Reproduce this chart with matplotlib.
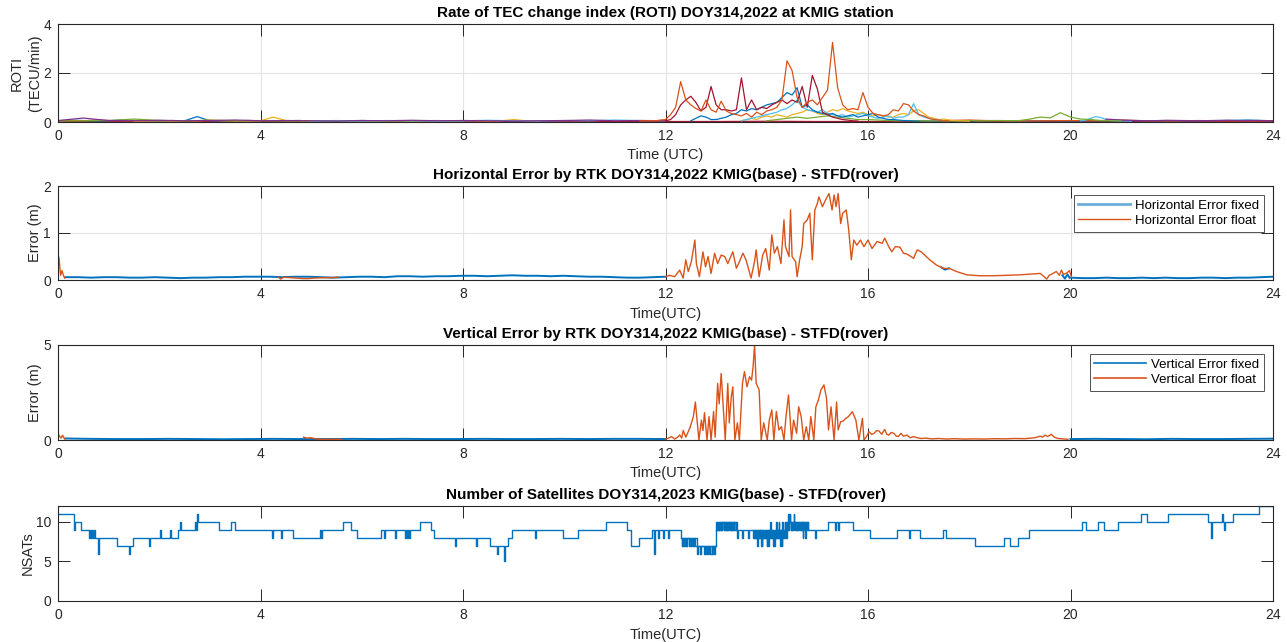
import numpy as np
import matplotlib
matplotlib.use("Agg")
import matplotlib.pyplot as plt

plt.rcParams['font.family'] = ['Liberation Sans', 'DejaVu Sans']

# ---------------- DATA ----------------
hours_ticks = [0, 4, 8, 12, 16, 20, 24]

# ROTI arcs (TECU/min): start hour, step (h), values
roti_a_start, roti_a_step = 11.5, 0.1
roti_a = [0.05, 0.04, 0.06, 0.05, 0.08, 0.10, 0.30, 0.60, 1.65, 0.90, 0.70, 0.55, 0.45, 0.90, 0.50, 0.40,
          0.85, 0.45, 0.35, 0.30, 0.25, 0.35, 0.20, 0.40, 0.30, 0.45, 0.50, 0.60, 0.90, 2.50, 2.10, 1.00,
          0.60, 0.80, 0.90, 0.70, 1.00, 1.30, 3.25, 1.40, 0.70, 0.50, 0.55, 0.50, 1.20, 0.60, 0.35, 0.30,
          0.25, 0.30, 0.50, 0.45, 0.75, 0.70, 0.45, 0.30, 0.25, 0.15, 0.10, 0.08, 0.05, 0.04]
roti_b_start, roti_b_step = 12.0, 0.1
roti_b = [0.05, 0.10, 0.30, 0.70, 0.90, 1.05, 0.80, 0.45, 0.60, 1.45, 0.70, 0.50, 0.50, 0.45, 0.50, 1.80,
          0.50, 0.90, 0.50, 0.60, 0.55, 0.70, 0.80, 0.90, 0.75, 0.90, 0.80, 1.45, 0.60, 1.90, 1.35, 0.40,
          0.30, 0.20, 0.15, 0.10, 0.08, 0.05, 0.04]
roti_c_start, roti_c_step = 12.5, 0.1
roti_c = [0.05, 0.15, 0.25, 0.20, 0.10, 0.10, 0.15, 0.20, 0.30, 0.35, 0.50, 0.45, 0.55, 0.50, 0.60, 0.70,
          0.75, 0.80, 1.00, 1.20, 1.10, 1.40, 0.60, 0.70, 0.50, 0.40, 0.35, 0.30, 0.35, 0.25, 0.20, 0.25,
          0.30, 0.20, 0.25, 0.30, 0.35, 0.20, 0.15, 0.10, 0.10, 0.08, 0.06, 0.05, 0.04, 0.03]
roti_d_start, roti_d_step = 13.5, 0.1
roti_d = [0.05, 0.10, 0.15, 0.20, 0.25, 0.30, 0.35, 0.40, 0.50, 0.55, 0.70, 0.90, 0.60, 0.50, 0.45, 0.40,
          0.50, 0.35, 0.30, 0.25, 0.30, 0.20, 0.25, 0.30, 0.35, 0.25, 0.20, 0.15, 0.20, 0.25, 0.15, 0.20,
          0.20, 0.30, 0.75, 0.30, 0.20, 0.15, 0.10, 0.08, 0.05]
roti_e_start, roti_e_step = 13.5, 0.1
roti_e = [0.05, 0.10, 0.15, 0.10, 0.20, 0.25, 0.20, 0.30, 0.25, 0.20, 0.30, 0.35, 0.40, 0.50, 0.45, 0.35,
          0.30, 0.40, 0.50, 0.45, 0.55, 0.45, 0.40, 0.35, 0.40, 0.30, 0.25, 0.30, 0.25, 0.20, 0.20, 0.30,
          0.35, 0.30, 0.45, 0.50, 0.35, 0.20, 0.15, 0.10, 0.12, 0.08, 0.06, 0.05, 0.04, 0.03]
roti_f_start, roti_f_step = 14.0, 0.2
roti_f = [0.05, 0.10, 0.15, 0.20, 0.15, 0.20, 0.25, 0.20, 0.15, 0.10, 0.10, 0.08, 0.06, 0.05, 0.06, 0.05,
          0.04, 0.05, 0.04, 0.05, 0.06, 0.04, 0.05, 0.06, 0.05, 0.06, 0.12, 0.20, 0.17, 0.38, 0.20, 0.12,
          0.10, 0.06, 0.05, 0.04]
# quiet arcs
rq1_start, rq1_step = 0.0, 0.25
rq1 = [0.05, 0.07, 0.06, 0.04, 0.05, 0.08, 0.06, 0.05, 0.04, 0.06, 0.05, 0.22, 0.05, 0.04, 0.05, 0.06,
       0.05, 0.04, 0.05, 0.06, 0.04, 0.05, 0.04, 0.03, 0.04]
rq2_start, rq2_step = 0.0, 0.25
rq2 = [0.04, 0.06, 0.05, 0.08, 0.06, 0.05, 0.04, 0.05, 0.06, 0.05, 0.04, 0.05, 0.06, 0.05, 0.04, 0.06,
       0.05, 0.04, 0.05, 0.06, 0.05, 0.04, 0.05, 0.04, 0.06, 0.05, 0.04, 0.05, 0.04]
rq3_start, rq3_step = 1.5, 0.25
rq3 = [0.03, 0.04, 0.05, 0.04, 0.06, 0.05, 0.08, 0.06, 0.05, 0.04, 0.05, 0.20, 0.06, 0.05, 0.04, 0.05,
       0.06, 0.04, 0.05, 0.04, 0.05, 0.06, 0.04, 0.05, 0.04, 0.05, 0.06, 0.05, 0.04, 0.05, 0.10, 0.05, 0.04]
rq4_start, rq4_step = 0.0, 0.5
rq4 = [0.06, 0.16, 0.06, 0.05, 0.07, 0.05, 0.06, 0.08, 0.05, 0.06, 0.05, 0.04, 0.06, 0.05, 0.07, 0.05,
       0.06, 0.05, 0.04, 0.05, 0.06, 0.08, 0.05, 0.06, 0.05]
rq5_start, rq5_step = 0.0, 0.5
rq5 = [0.04, 0.05, 0.06, 0.12, 0.06, 0.05, 0.07, 0.05, 0.06, 0.05, 0.04, 0.05, 0.06, 0.04, 0.05, 0.06, 0.04]
rq6_start, rq6_step = 5.0, 0.5
rq6 = [0.04, 0.05, 0.04, 0.06, 0.05, 0.04, 0.05, 0.07, 0.05, 0.04, 0.06, 0.05, 0.08, 0.06, 0.05]
rq7_start, rq7_step = 0.0, 1.0
rq7 = [0.02, 0.02, 0.03, 0.02, 0.02, 0.02, 0.03, 0.02, 0.02, 0.02, 0.03, 0.02, 0.02, 0.02, 0.03, 0.02,
       0.02, 0.02, 0.02, 0.03, 0.02, 0.02, 0.02, 0.02, 0.02]
rq8_start, rq8_step = 17.0, 0.5
rq8 = [0.05, 0.04, 0.05, 0.06, 0.04, 0.05, 0.04, 0.05, 0.06, 0.05, 0.04, 0.05, 0.06, 0.08, 0.05]
rq9_start, rq9_step = 17.5, 0.5
rq9 = [0.06, 0.08, 0.05, 0.04, 0.05, 0.06, 0.05, 0.08, 0.05, 0.04, 0.06, 0.05, 0.04, 0.05]
rq10_start, rq10_step = 20.7, 0.3
rq10 = [0.12, 0.08, 0.06, 0.05, 0.07, 0.06, 0.05, 0.06, 0.07, 0.05, 0.06, 0.05]
rq11_start, rq11_step = 20.2, 0.1
rq11 = [0.05, 0.08, 0.15, 0.22, 0.18, 0.10, 0.06, 0.05, 0.04, 0.04, 0.03]

# Horizontal error (m)
hz_fixed_a = [0.06, 0.06, 0.05, 0.06, 0.06, 0.05, 0.05, 0.06, 0.05, 0.04, 0.05, 0.05, 0.06, 0.06, 0.07, 0.07,
              0.07, 0.06, 0.07, 0.07, 0.06, 0.05, 0.06, 0.07, 0.07, 0.06, 0.08, 0.08, 0.07, 0.08, 0.08, 0.09,
              0.09, 0.08, 0.09, 0.10, 0.09, 0.09, 0.08, 0.09, 0.08, 0.07, 0.07, 0.06, 0.05, 0.05, 0.06, 0.07]
hz_fixed_a_span = (0.15, 12.0)
hz_fixed_b = [0.05, 0.04, 0.04, 0.05, 0.04, 0.04, 0.05, 0.04, 0.05, 0.04, 0.04, 0.05, 0.05, 0.04, 0.05, 0.05,
              0.06, 0.07]
hz_fixed_b_span = (20.0, 24.0)
hz_fixed_c_t = [17.45, 17.52, 17.60]
hz_fixed_c = [0.27, 0.22, 0.25]
hz_fixed_d_t = [19.84, 19.89, 19.94, 19.98]
hz_fixed_d = [0.10, 0.03, 0.12, 0.05]
hz_float_q_t = [0.00, 0.02, 0.05, 0.08, 0.10, 0.13]
hz_float_q = [0.30, 0.48, 0.10, 0.20, 0.12, 0.04]
hz_float_q2_t = [4.35, 4.40, 4.45, 4.84, 4.95, 5.05, 5.27, 5.40, 5.53]
hz_float_q2 = [0.06, 0.02, 0.06, 0.03, 0.03, 0.04, 0.05, 0.05, 0.06]
hz_float_t = [12.00, 12.08, 12.18, 12.28, 12.35, 12.40, 12.45, 12.51, 12.58, 12.61, 12.67, 12.74, 12.79, 12.84,
              12.90, 12.97, 13.03, 13.10, 13.17, 13.23, 13.33, 13.40, 13.46, 13.53, 13.59, 13.69, 13.76, 13.79,
              13.85, 13.92, 13.98, 14.05, 14.10, 14.15, 14.21, 14.28, 14.34, 14.37, 14.44, 14.47, 14.50, 14.57,
              14.60, 14.65, 14.70, 14.73, 14.80, 14.85, 14.90, 14.95, 15.00, 15.03, 15.10, 15.16, 15.23, 15.29,
              15.33, 15.37, 15.41, 15.46, 15.50, 15.57, 15.62, 15.67, 15.72, 15.78, 15.85, 15.92, 16.00, 16.08,
              16.18, 16.28, 16.33, 16.41, 16.47, 16.54, 16.63, 16.70, 16.77, 16.85, 16.90, 16.97, 17.05, 17.12,
              17.22, 17.35, 17.48, 17.62, 17.75, 17.95, 18.21, 18.47, 18.74, 19.00, 19.27, 19.40, 19.47, 19.53,
              19.58, 19.62, 19.72, 19.78, 19.82, 19.86, 19.93, 19.98, 20.02]
hz_float = [0.07, 0.10, 0.07, 0.21, 0.04, 0.43, 0.18, 0.39, 0.85, 0.35, 0.07, 0.60, 0.28, 0.50,
            0.14, 0.57, 0.35, 0.53, 0.50, 0.35, 0.60, 0.25, 0.39, 0.57, 0.43, 0.04, 0.40, 0.64,
            0.07, 0.53, 0.67, 0.21, 0.96, 0.57, 0.71, 0.35, 1.28, 0.71, 0.50, 1.49, 0.50, 0.39,
            0.07, 0.43, 0.71, 1.20, 1.28, 1.42, 0.43, 1.49, 1.63, 1.77, 1.56, 1.70, 1.84, 1.49,
            1.81, 1.56, 1.84, 1.20, 1.42, 1.49, 1.06, 0.43, 0.85, 0.74, 0.85, 0.71, 0.85, 0.67,
            0.82, 0.78, 0.89, 0.71, 0.60, 0.71, 0.70, 0.57, 0.55, 0.50, 0.46, 0.64, 0.60, 0.53,
            0.43, 0.32, 0.25, 0.24, 0.18, 0.11, 0.09, 0.09, 0.10, 0.11, 0.13, 0.14, 0.08, 0.02,
            0.10, 0.12, 0.18, 0.10, 0.21, 0.12, 0.15, 0.20, 0.06]

# Vertical error (m)
ver_fixed_a = [0.08, 0.06, 0.05, 0.05, 0.06, 0.05, 0.04, 0.05, 0.06, 0.05, 0.05, 0.06, 0.05, 0.06, 0.05, 0.05,
               0.06, 0.05, 0.05, 0.06, 0.05, 0.06, 0.06, 0.05]
ver_fixed_a_span = (0.15, 12.0)
ver_fixed_b = [0.05, 0.06, 0.05, 0.04, 0.06, 0.05, 0.05, 0.06, 0.07]
ver_fixed_b_span = (20.0, 24.0)
ver_float_q_t = [0.00, 0.03, 0.06, 0.09, 0.13]
ver_float_q = [0.35, 0.20, 0.10, 0.25, 0.05]
ver_float_q2_t = [4.85, 4.92, 5.00, 5.10, 5.30, 5.45, 5.60]
ver_float_q2 = [0.15, 0.10, 0.12, 0.05, 0.03, 0.04, 0.03]
ver_float_t = [12.00, 12.06, 12.12, 12.18, 12.24, 12.28, 12.32, 12.35, 12.40, 12.45, 12.49, 12.55, 12.59, 12.63,
               12.66, 12.71, 12.74, 12.77, 12.82, 12.86, 12.90, 12.95, 12.98, 13.03, 13.06, 13.10, 13.14, 13.18,
               13.23, 13.26, 13.30, 13.33, 13.37, 13.42, 13.46, 13.52, 13.56, 13.61, 13.66, 13.70, 13.73, 13.76,
               13.79, 13.85, 13.89, 13.94, 14.01, 14.05, 14.10, 14.14, 14.19, 14.24, 14.29, 14.34, 14.38, 14.43,
               14.49, 14.53, 14.59, 14.63, 14.68, 14.73, 14.78, 14.83, 14.87, 14.93, 14.97, 15.02, 15.07, 15.13,
               15.18, 15.22, 15.27, 15.33, 15.38, 15.41, 15.46, 15.51, 15.56, 15.60, 15.64, 15.69, 15.72, 15.76,
               15.82, 15.89, 15.92, 15.97, 16.02, 16.07, 16.12, 16.17, 16.22, 16.27, 16.33, 16.37, 16.41, 16.46,
               16.51, 16.56, 16.60, 16.65, 16.70, 16.77, 16.83, 16.90, 16.97, 17.05, 17.15, 17.25, 17.40, 17.55,
               17.70, 17.90, 18.10, 18.30, 18.50, 18.70, 18.90, 19.10, 19.30, 19.40, 19.45, 19.50, 19.55, 19.62,
               19.68, 19.75, 19.85, 19.95]
ver_float = [0.05, 0.10, 0.18, 0.05, 0.15, 0.26, 0.10, 0.50, 0.15, 0.44, 0.70, 1.23, 2.00, 0.88,
             0.00, 1.05, 0.50, 1.44, 0.00, 1.23, 0.00, 1.50, 0.15, 2.98, 1.90, 3.50, 1.75, 0.00,
             2.98, 0.90, 2.30, 2.80, 0.00, 0.90, 0.00, 2.98, 3.60, 2.80, 3.33, 3.15, 3.86, 5.00,
             3.00, 2.63, 0.00, 0.90, 0.00, 1.05, 1.58, 0.00, 1.50, 0.53, 0.70, 0.00, 1.23, 2.37,
             0.00, 1.05, 0.35, 1.75, 1.23, 0.00, 0.70, 0.00, 1.23, 0.00, 1.75, 2.10, 2.63, 2.90,
             2.20, 0.53, 1.75, 0.00, 2.00, 0.53, 0.96, 1.00, 1.14, 1.20, 1.32, 1.49, 1.30, 1.05,
             0.00, 1.14, 0.00, 0.18, 0.44, 0.30, 0.35, 0.50, 0.47, 0.30, 0.56, 0.30, 0.26, 0.40,
             0.35, 0.20, 0.18, 0.35, 0.20, 0.26, 0.12, 0.18, 0.12, 0.08, 0.10, 0.06, 0.08, 0.05,
             0.07, 0.05, 0.06, 0.05, 0.07, 0.06, 0.08, 0.07, 0.12, 0.20, 0.15, 0.26, 0.18, 0.30,
             0.15, 0.08, 0.06, 0.04]

# Number of satellites (step changes)
nsat_t = [0.00, 0.31, 0.33, 0.45, 0.61, 0.63, 0.65, 0.67, 0.69, 0.71, 0.74, 0.79, 0.81, 1.16, 1.40, 1.42,
          1.49, 1.80, 1.82, 2.01, 2.03, 2.21, 2.23, 2.37, 2.40, 2.42, 2.70, 2.72, 2.74, 2.76, 3.19, 3.42,
          3.49, 4.22, 4.24, 4.41, 4.43, 4.65, 5.18, 5.20, 5.22, 5.63, 5.79, 5.91, 6.38, 6.43, 6.45, 6.66,
          6.68, 6.85, 6.87, 6.89, 6.91, 6.93, 6.95, 7.16, 7.36, 7.43, 7.84, 7.86, 8.26, 8.28, 8.53, 8.67,
          8.69, 8.80, 8.82, 8.88, 8.96, 9.43, 9.45, 9.98, 10.27, 10.82, 11.23, 11.31, 11.47, 11.73, 11.77,
          11.79, 11.85, 11.87, 11.95, 11.97, 12.05, 12.07, 12.30, 12.33, 12.35, 12.40, 12.42, 12.48, 12.50,
          12.55, 12.57, 12.63, 12.78, 12.80, 12.85, 12.87, 12.92, 12.94, 12.99, 13.05, 13.08, 13.11, 13.15,
          13.17, 13.22, 13.24, 13.30, 13.32, 13.36, 13.42, 13.44, 13.52, 13.54, 13.62, 13.64, 13.73, 13.76,
          13.78, 13.80, 13.83, 13.86, 13.88, 13.90, 13.93, 13.96, 13.98, 14.01, 14.03, 14.05, 14.08, 14.10,
          14.12, 14.14, 14.16, 14.19, 14.21, 14.24, 14.26, 14.28, 14.31, 14.33, 14.36, 14.38, 14.40, 14.42,
          14.44, 14.47, 14.49, 14.53, 14.55, 14.60, 14.62, 14.68, 14.70, 14.75, 14.77, 14.82, 14.95, 14.97,
          15.21, 15.35, 15.37, 15.40, 15.42, 15.70, 16.03, 16.57, 16.80, 16.82, 17.02, 17.49, 17.55, 18.12,
          18.69, 18.81, 18.97, 19.18, 20.22, 20.30, 20.54, 20.66, 20.94, 21.40, 21.51, 21.93, 22.72, 22.78,
          22.80, 23.00, 23.02, 23.04, 23.06, 23.20, 23.73, 24.00]
nsat_v = [11, 9, 10, 9, 8, 9, 8, 9, 8, 9, 8, 6, 8, 7, 6, 7,
          8, 7, 8, 9, 8, 9, 8, 9, 10, 9, 10, 9, 11, 10, 9, 10,
          9, 8, 9, 8, 9, 8, 9, 8, 9, 10, 9, 8, 9, 8, 9, 8,
          9, 8, 9, 8, 9, 8, 9, 10, 9, 8, 7, 8, 7, 8, 7, 6,
          7, 5, 7, 8, 9, 8, 9, 8, 9, 10, 9, 7, 8, 9, 6,
          9, 8, 9, 8, 9, 8, 9, 8, 7, 8, 7, 8, 7, 8,
          7, 8, 7, 6, 7, 6, 7, 6, 7, 9, 10, 9, 10, 9,
          10, 9, 10, 9, 10, 9, 8, 9, 8, 9, 8, 9, 8, 9,
          8, 9, 8, 9, 7, 9, 8, 9, 8, 9, 7, 9, 8, 9,
          7, 8, 9, 10, 8, 9, 7, 9, 10, 8, 10, 9, 10, 11,
          10, 9, 10, 9, 10, 9, 10, 9, 10, 8, 10, 9, 8, 9,
          10, 9, 10, 9, 10, 9, 8, 9, 8, 9, 8, 9, 8, 7,
          8, 7, 8, 9, 10, 9, 10, 9, 10, 11, 10, 11, 10, 8,
          10, 11, 10, 9, 10, 11, 12, 12]
# rapid switching periods (uniform sub-samples over each span)
nsat_d1_span = (12.30, 12.99)
nsat_d1 = [8, 7, 8, 7, 8, 7, 8, 8, 7, 8, 7, 8, 7, 8, 7, 7, 6, 7, 7, 6, 7, 7, 7, 6, 7, 7, 6, 7, 7, 6,
           7, 7, 6, 7, 7]
nsat_d2_span = (12.99, 13.42)
nsat_d2 = [9, 10, 9, 10, 9, 10, 9, 10, 9, 10, 9, 10, 10, 9, 10, 9, 10, 9, 10, 9, 10, 9, 10, 9, 10, 9,
           10, 9, 10, 9, 10, 10, 9, 10, 9, 9]
nsat_d3_span = (13.73, 14.42)
nsat_d3 = [9, 8, 9, 8, 9, 8, 9, 7, 9, 8, 9, 8, 9, 8, 7, 9, 8, 9, 8, 9, 8, 9, 7, 8, 9, 8, 9, 8, 10, 9,
           8, 9, 8, 9, 7, 9, 8, 9, 8, 9, 8, 9, 10, 8, 9, 8, 9, 7, 8, 9, 8, 9, 10, 9, 8, 9, 10, 9]
nsat_d4_span = (14.42, 14.82)
nsat_d4 = [10, 9, 10, 11, 10, 9, 10, 9, 10, 11, 10, 9, 10, 9, 10, 9, 10, 10, 9, 10, 9, 10, 9, 10, 8,
           10, 9, 10, 9, 10, 9, 10, 9, 9]

# ---------------- STYLE ----------------
C_BLUE, C_ORANGE, C_YELLOW, C_PURPLE = '#0072BD', '#D95319', '#EDB120', '#7E2F8E'
C_GREEN, C_LBLUE, C_DRED = '#77AC30', '#4DBEEE', '#A2142F'
AX_C = '#262626'
GRID_C = '#e3e3e3'

fig = plt.figure(figsize=(12.87, 6.42), dpi=100)
L, W = 58 / 1287, (1273 - 58) / 1287


def ax_at(top_px, bot_px):
    return fig.add_axes([L, 1 - bot_px / 642, W, (bot_px - top_px) / 642])


def style(ax, title, xlabel, ylabel, yticks, ylim, grid=True, ylinespacing=1.0):
    ax.set_xlim(0, 24)
    ax.set_ylim(*ylim)
    ax.set_xticks(hours_ticks)
    ax.set_yticks(yticks)
    ax.tick_params(direction='in', length=8.5, width=0.7, top=True, right=True,
                   colors=AX_C, labelsize=10, pad=5)
    for s in ax.spines.values():
        s.set_color(AX_C)
        s.set_linewidth(0.8)
    if grid:
        ax.grid(True, color=GRID_C, linewidth=0.8)
        ax.set_axisbelow(True)
    ax.set_title(title, fontsize=11, fontweight='bold', color='black', pad=5)
    ax.set_xlabel(xlabel, fontsize=10.5, color=AX_C, labelpad=4)
    ax.set_ylabel(ylabel, fontsize=10.5, color=AX_C, labelpad=1, linespacing=ylinespacing)


def arc(start, step, vals):
    return start + step * np.arange(len(vals)), np.asarray(vals)


# ---- Panel 1: ROTI
ax1 = ax_at(24, 122)
quiet = [(rq7_start, rq7_step, rq7, C_DRED), (rq1_start, rq1_step, rq1, C_BLUE),
         (rq2_start, rq2_step, rq2, C_ORANGE), (rq3_start, rq3_step, rq3, C_YELLOW),
         (rq5_start, rq5_step, rq5, C_GREEN), (rq6_start, rq6_step, rq6, C_LBLUE),
         (rq8_start, rq8_step, rq8, C_BLUE), (rq9_start, rq9_step, rq9, C_ORANGE),
         (rq11_start, rq11_step, rq11, C_LBLUE), (rq10_start, rq10_step, rq10, C_PURPLE),
         (rq4_start, rq4_step, rq4, C_PURPLE)]
for st, sp, v, c in quiet:
    t, y = arc(st, sp, v)
    ax1.plot(t, y, color=c, lw=0.9)
active = [(roti_f_start, roti_f_step, roti_f, C_GREEN), (roti_e_start, roti_e_step, roti_e, C_YELLOW),
          (roti_d_start, roti_d_step, roti_d, C_LBLUE), (roti_c_start, roti_c_step, roti_c, C_BLUE),
          (roti_b_start, roti_b_step, roti_b, C_DRED), (roti_a_start, roti_a_step, roti_a, C_ORANGE)]
for st, sp, v, c in active:
    t, y = arc(st, sp, v)
    ax1.plot(t, y, color=c, lw=0.9)
style(ax1, 'Rate of TEC change index (ROTI) DOY314,2022 at KMIG station', 'Time (UTC)',
      'ROTI\n(TECU/min)', [0, 2, 4], (0, 4), ylinespacing=1.4)


def make_legend(ax, handles):
    leg = ax.legend(handles=handles, loc='upper right', fontsize=9.5, frameon=True, fancybox=False,
                    edgecolor=AX_C, handlelength=3.9, borderaxespad=0.7, borderpad=0.35,
                    labelspacing=0.2, handletextpad=0.4)
    leg.get_frame().set_linewidth(0.7)
    return leg


# ---- Panel 2: Horizontal error
ax2 = ax_at(186, 280)
t = np.linspace(*hz_fixed_a_span, len(hz_fixed_a))
l_fix, = ax2.plot(t, hz_fixed_a, color=C_BLUE, lw=1.4, label='Horizontal Error fixed')
t = np.linspace(*hz_fixed_b_span, len(hz_fixed_b))
ax2.plot(t, hz_fixed_b, color=C_BLUE, lw=1.4)
ax2.plot(hz_fixed_c_t, hz_fixed_c, color=C_BLUE, lw=1.4)
ax2.plot(hz_fixed_d_t, hz_fixed_d, color=C_BLUE, lw=1.4)
ax2.plot(hz_float_q_t, hz_float_q, color=C_ORANGE, lw=1.0)
ax2.plot(hz_float_q2_t, hz_float_q2, color=C_ORANGE, lw=1.0)
l_flt, = ax2.plot(hz_float_t, hz_float, color=C_ORANGE, lw=1.0, label='Horizontal Error float')
style(ax2, 'Horizontal Error by RTK DOY314,2022 KMIG(base) - STFD(rover)', 'Time(UTC)',
      'Error (m)', [0, 1, 2], (0, 2))
leg = make_legend(ax2, [l_fix, l_flt])
leg.legend_handles[0].set_color('#6aaedd')
leg.legend_handles[0].set_linewidth(2.0)

# ---- Panel 3: Vertical error
ax3 = ax_at(345, 440)
t = np.linspace(*ver_fixed_a_span, len(ver_fixed_a))
v_fix, = ax3.plot(t, ver_fixed_a, color=C_BLUE, lw=1.4, label='Vertical Error fixed')
t = np.linspace(*ver_fixed_b_span, len(ver_fixed_b))
ax3.plot(t, ver_fixed_b, color=C_BLUE, lw=1.4)
ax3.plot(ver_float_q_t, ver_float_q, color=C_ORANGE, lw=1.0)
ax3.plot(ver_float_q2_t, ver_float_q2, color=C_ORANGE, lw=1.0)
v_flt, = ax3.plot(ver_float_t, ver_float, color=C_ORANGE, lw=1.0, label='Vertical Error float')
style(ax3, 'Vertical Error by RTK DOY314,2022 KMIG(base) - STFD(rover)', 'Time(UTC)',
      'Error (m)', [0, 5], (0, 5))
leg3 = make_legend(ax3, [v_fix, v_flt])
leg3.legend_handles[0].set_linewidth(1.2)
leg3.legend_handles[1].set_linewidth(1.2)

# ---- Panel 4: number of satellites
ax4 = ax_at(506, 601)
ax4.plot(nsat_t, nsat_v, color=C_BLUE, lw=1.0, drawstyle='steps-post')
for span, vals in [(nsat_d1_span, nsat_d1), (nsat_d2_span, nsat_d2),
                   (nsat_d3_span, nsat_d3), (nsat_d4_span, nsat_d4)]:
    ax4.plot(np.linspace(*span, len(vals)), vals, color=C_BLUE, lw=1.0, drawstyle='steps-post')
style(ax4, 'Number of Satellites DOY314,2023 KMIG(base) - STFD(rover)', 'Time(UTC)',
      'NSATs', [0, 5, 10], (0, 12), grid=False)

fig.savefig('out.png', dpi=100)
